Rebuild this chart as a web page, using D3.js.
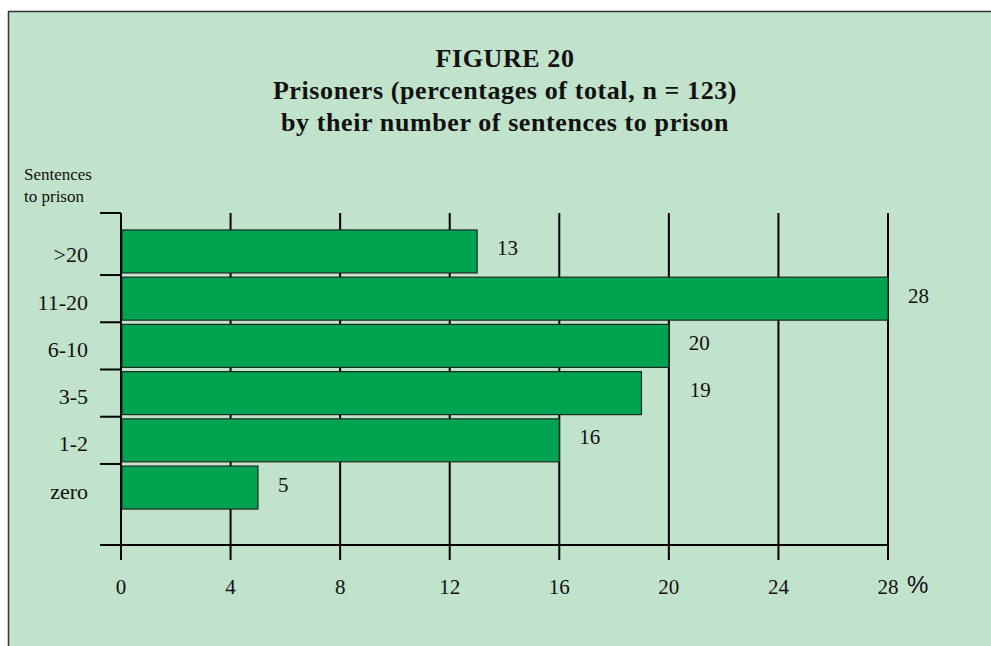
<!DOCTYPE html>
<html>
<head>
<meta charset="utf-8">
<script src="https://cdn.jsdelivr.net/npm/d3@7"></script>
<style>
  body { margin: 0; background: #fff; }
  text { font-family: "Liberation Serif", "DejaVu Serif", serif; fill: #111; }
</style>
</head>
<body>
<div id="chart_div"></div>
<script>
// data
var categories = [">20", "11-20", "6-10", "3-5", "1-2", "zero"];
var percents = [13, 28, 20, 19, 16, 5];
var xTicks = [0, 4, 8, 12, 16, 20, 24, 28];
var titleLines = ["FIGURE 20", "Prisoners (percentages of total, n = 123)", "by their number of sentences to prison"];

var W = 991, H = 646;

var svg = d3.select("#chart_div").append("svg")
    .attr("width", W)
    .attr("height", H);

// panel
svg.append("rect")
    .attr("x", 8.5).attr("y", 11.5)
    .attr("width", W + 10).attr("height", H + 10)
    .attr("fill", "#c1e2cb")
    .attr("stroke", "#333")
    .attr("stroke-width", 1.5);

// title
svg.selectAll(".title")
    .data(titleLines)
    .enter().append("text")
    .attr("class", "title")
    .attr("x", 505)
    .attr("y", function(d, i) { return 67 + i * 32; })
    .attr("text-anchor", "middle")
    .style("font-size", "26px")
    .style("font-weight", "bold")
    .style("letter-spacing", "0.6px")
    .text(function(d) { return d; });

// scales
var x = d3.scaleLinear().domain([0, 28]).range([121, 888]);
var y = d3.scaleBand()
    .domain(categories)
    .range([229, 510])
    .paddingInner(0.09)
    .paddingOuter(0.02);

var axTop = 213, axBottom = 545, tickEnd = 560;

// vertical grid lines + ticks below axis
svg.selectAll(".grid")
    .data(xTicks)
    .enter().append("line")
    .attr("x1", function(d) { return x(d); })
    .attr("x2", function(d) { return x(d); })
    .attr("y1", axTop)
    .attr("y2", tickEnd)
    .attr("stroke", "#000")
    .attr("stroke-width", 2);

// bottom axis line
svg.append("line")
    .attr("x1", 100).attr("x2", x(28))
    .attr("y1", axBottom).attr("y2", axBottom)
    .attr("stroke", "#000").attr("stroke-width", 2);

// y ticks: top, between bands, bottom
var yTickPos = [axTop];
for (var i = 1; i < categories.length; i++) {
  var prevEnd = y(categories[i - 1]) + y.bandwidth();
  yTickPos.push((prevEnd + y(categories[i])) / 2);
}
yTickPos.push(axBottom);
svg.selectAll(".ytick")
    .data(yTickPos)
    .enter().append("line")
    .attr("x1", 100).attr("x2", x(0))
    .attr("y1", function(d) { return d; })
    .attr("y2", function(d) { return d; })
    .attr("stroke", "#000").attr("stroke-width", 2);

// bars
svg.selectAll(".bar")
    .data(percents)
    .enter().append("rect")
    .attr("class", "bar")
    .attr("x", x(0) + 1)
    .attr("y", function(d, i) { return y(categories[i]); })
    .attr("width", function(d) { return x(d) - x(0) - 1; })
    .attr("height", y.bandwidth())
    .attr("fill", "#00a34f")
    .attr("stroke", "#1d2a22")
    .attr("stroke-width", 1.2);

// value labels, pushed past a grid line if they would sit on it
function labelX(v) {
  var px = x(v) + 20;
  xTicks.forEach(function(t) {
    if (x(t) > x(v) && x(t) < px + 24) px = x(t) + 21;
  });
  return px;
}
svg.selectAll(".val")
    .data(percents)
    .enter().append("text")
    .attr("x", function(d) { return labelX(d); })
    .attr("y", function(d, i) { return y(categories[i]) + y.bandwidth() / 2 + 4; })
    .style("font-size", "21px")
    .text(function(d) { return d; });

// category labels
svg.selectAll(".cat")
    .data(categories)
    .enter().append("text")
    .attr("x", 88)
    .attr("y", function(d) { return y(d) + y.bandwidth() / 2 + 11; })
    .attr("text-anchor", "end")
    .style("font-size", "22px")
    .text(function(d) { return d; });

// x tick labels
svg.selectAll(".xlab")
    .data(xTicks)
    .enter().append("text")
    .attr("x", function(d) { return x(d); })
    .attr("y", 594)
    .attr("text-anchor", "middle")
    .style("font-size", "21px")
    .text(function(d) { return d; });

svg.append("text")
    .attr("x", 907).attr("y", 593)
    .style("font-size", "24px")
    .style("font-family", "'Liberation Sans', Arial, sans-serif")
    .text("%");

// axis title
svg.append("text").attr("x", 24).attr("y", 180)
    .style("font-size", "17px").text("Sentences");
svg.append("text").attr("x", 24).attr("y", 202)
    .style("font-size", "17px").text("to prison");
</script>
</body>
</html>
